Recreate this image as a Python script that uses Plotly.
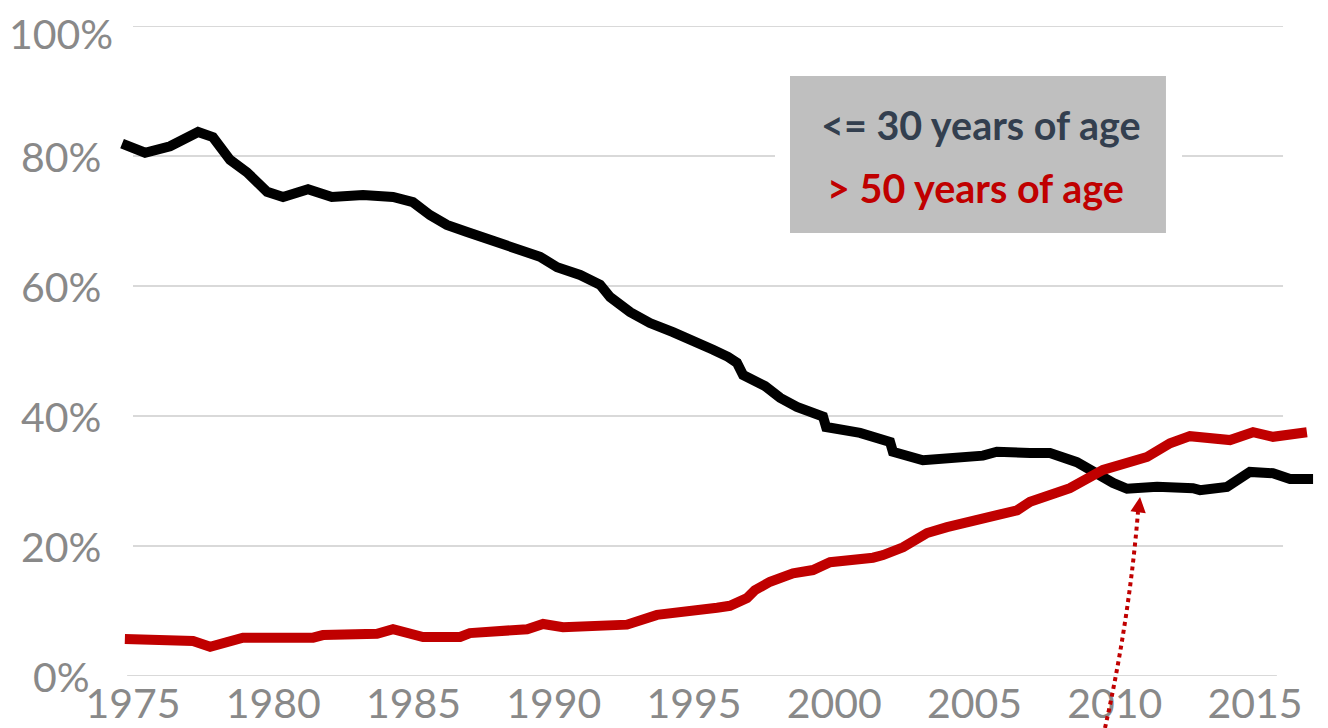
import plotly.graph_objects as go

# ---- data (share of workforce, %) ----
young_years = [1974.61, 1975.43, 1976.32, 1977.32, 1977.85, 1978.17, 1978.46, 1979.06, 1979.35, 1979.78,
               1980.35, 1981.24, 1982.09, 1983.20, 1984.27, 1984.98, 1985.59, 1986.19, 1986.91, 1987.98,
               1988.33, 1988.80, 1989.51, 1990.12, 1990.94, 1991.65, 1992.01, 1992.72, 1993.43, 1994.25,
               1994.75, 1995.32, 1995.68, 1996.21, 1996.53, 1996.75, 1997.53, 1998.07, 1998.67, 1999.60,
               1999.71, 2000.92, 2001.99, 2002.09, 2003.16, 2005.30, 2005.80, 2006.98, 2007.69, 2008.65,
               2009.37, 2009.94, 2010.44, 2011.51, 2012.79, 2013.04, 2014.00, 2014.82, 2015.64, 2016.25,
               2017.07]
young_share = [81.9, 80.5, 81.5, 83.7, 82.9, 81.2, 79.4, 77.5, 76.3, 74.5,
               73.7, 74.9, 73.7, 74.0, 73.7, 72.9, 70.9, 69.4, 68.3, 66.8,
               66.0, 65.5, 64.5, 62.9, 61.7, 60.2, 58.3, 56.0, 54.3, 52.9,
               52.0, 51.2, 50.2, 49.1, 48.2, 46.3, 44.6, 42.8, 41.4, 39.9,
               38.3, 37.4, 36.0, 34.5, 33.2, 33.9, 34.5, 34.3, 34.3, 32.9,
               30.9, 29.7, 28.8, 29.1, 28.9, 28.6, 29.1, 31.4, 31.2, 30.3,
               30.3]

old_years = [1974.71, 1977.14, 1977.75, 1978.92, 1981.42, 1981.77, 1983.70, 1984.27, 1985.34, 1986.66,
             1987.01, 1989.05, 1989.62, 1990.33, 1992.61, 1993.68, 1995.82, 1996.28, 1996.89, 1997.17,
             1997.71, 1998.53, 1999.24, 1999.85, 2001.38, 2001.74, 2002.45, 2003.31, 2004.02, 2005.45,
             2006.52, 2006.98, 2008.40, 2009.58, 2010.44, 2011.15, 2011.97, 2012.68, 2014.11, 2014.93,
             2015.64, 2016.85]
old_share = [5.7, 5.4, 4.5, 5.9, 5.9, 6.3, 6.5, 7.2, 6.0, 6.0,
             6.6, 7.2, 8.0, 7.5, 7.9, 9.4, 10.5, 10.8, 12.0, 13.2,
             14.5, 15.8, 16.3, 17.5, 18.2, 18.6, 19.8, 22.0, 22.9, 24.3,
             25.5, 26.8, 28.9, 31.7, 32.8, 33.7, 35.8, 36.9, 36.3, 37.5,
             36.8, 37.5]

x_ticks = [1975, 1980, 1985, 1990, 1995, 2000, 2005, 2010, 2015]
y_ticks = [0, 20, 40, 60, 80, 100]
y_labels = ["0%", "20%", "40%", "60%", "80%", "100%"]
series_names = ["<= 30 years of age", "> 50 years of age"]

BLACK = "#000000"
RED = "#C00000"
NAVY = "#333F4F"
TICK = "#898989"
GRID = "#CDCDCD"

fig = go.Figure()
fig.add_trace(go.Scatter(x=young_years, y=young_share, mode="lines", name=series_names[0],
                         line=dict(color=BLACK, width=10), showlegend=False))
fig.add_trace(go.Scatter(x=old_years, y=old_share, mode="lines", name=series_names[1],
                         line=dict(color=RED, width=10), showlegend=False))

shapes = []
annotations = []
# horizontal gridlines + y tick labels (centred, as in the reference)
for v, lab in zip(y_ticks, y_labels):
    if v == 0:
        x0, x1 = 1974.79, 2015.78
    else:
        x0, x1 = 1975.0, 2016.0
    shapes.append(dict(type="line", xref="x", yref="y", x0=x0, x1=x1, y0=v, y1=v,
                       line=dict(color=GRID, width=1.5), layer="below"))
    if v == max(y_ticks):
        # keep the top label fully inside the figure
        annotations.append(dict(xref="paper", yref="paper", x=-0.0475, y=1 + 18 / 650, text=lab,
                                showarrow=False, xanchor="center", yanchor="top", borderpad=0,
                                font=dict(family="Lato, sans-serif", size=41, color=TICK)))
    else:
        annotations.append(dict(xref="paper", yref="y", x=-0.0475, y=v, text=lab, showarrow=False,
                                xanchor="center", yanchor="middle",
                                font=dict(family="Lato, sans-serif", size=41, color=TICK)))
# legend box (white halo + gray box)
shapes.append(dict(type="rect", xref="paper", yref="paper", x0=0.5475, x1=0.8867, y0=0.6585, y1=0.946,
                   fillcolor="white", line=dict(width=0), layer="above"))
shapes.append(dict(type="rect", xref="paper", yref="paper", x0=0.56, x1=0.8733, y0=0.6815, y1=0.923,
                   fillcolor="#BFBFBF", line=dict(width=0), layer="above"))
# dotted arrow shaft
shapes.append(dict(type="path", xref="paper", yref="paper",
                   path="M 0.8225,-0.08 Q 0.8425,0.0846 0.85,0.2523",
                   line=dict(color=RED, width=4, dash="dot"), layer="above"))

annotations += [
    dict(xref="paper", yref="paper", x=0.7192, y=0.8477, text="<b>" + series_names[0].replace("<", "&lt;") + "</b>",
         showarrow=False, font=dict(family="Lato, sans-serif", size=39.5, color=NAVY),
         xanchor="center", yanchor="middle"),
    dict(xref="paper", yref="paper", x=0.7142, y=0.752, text="<b>" + series_names[1].replace(">", "&gt;") + "</b>",
         showarrow=False, font=dict(family="Lato, sans-serif", size=39.5, color=RED),
         xanchor="center", yanchor="middle"),
    dict(xref="paper", yref="paper", x=0.8517, y=0.2754, text="", showarrow=True,
         ax=-2, ay=16, arrowhead=2, arrowsize=1.4, arrowwidth=2.2, arrowcolor=RED, standoff=0),
]

fig.update_layout(
    width=1320, height=720,
    margin=dict(l=110, r=10, t=18, b=52, autoexpand=False),
    paper_bgcolor="white", plot_bgcolor="white",
    shapes=shapes,
    font=dict(family="Lato, sans-serif"),
    xaxis=dict(range=[1974.465, 2017.246], tickvals=x_ticks, ticktext=[str(v) for v in x_ticks],
               showgrid=False, zeroline=False, showline=False, automargin=False,
               ticks="",
               tickfont=dict(family="Lato, sans-serif", size=41, color=TICK)),
    yaxis=dict(range=[0, 100], tickvals=y_ticks, showticklabels=False,
               showgrid=False, zeroline=False, showline=False, automargin=False, ticks=""),
    annotations=annotations,
)

fig.write_html("out.html")
